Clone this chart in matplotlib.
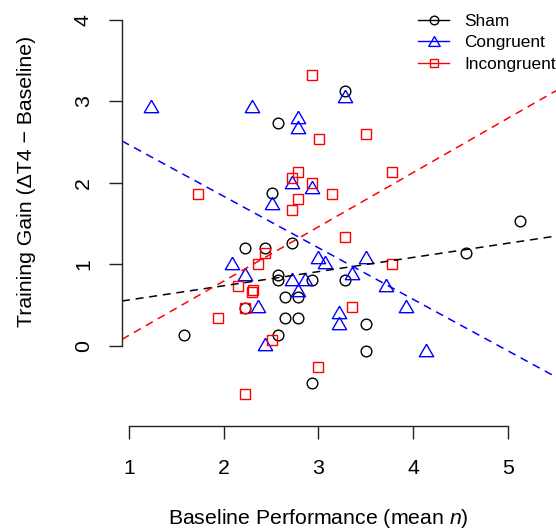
import matplotlib
matplotlib.use("Agg")
import matplotlib.pyplot as plt
import numpy as np
from matplotlib.lines import Line2D

plt.rcParams['font.family'] = ['Liberation Sans', 'DejaVu Sans']
plt.rcParams['mathtext.fontset'] = 'custom'
plt.rcParams['mathtext.rm'] = 'Liberation Sans'
plt.rcParams['mathtext.it'] = 'Liberation Sans:italic'

# ---- data ----
sham_x = [1.580, 2.573, 3.280, 5.127, 4.557, 2.509, 2.224, 2.435, 2.720, 2.573, 2.573,
          2.931, 3.280, 2.646, 2.784, 2.224, 2.646, 2.784, 2.573, 2.931, 3.501, 3.501]
sham_y = [0.135, 2.733, 3.125, 1.532, 1.140, 1.875, 1.201, 1.201, 1.262, 0.870, 0.809,
          0.809, 0.809, 0.600, 0.600, 0.466, 0.343, 0.343, 0.135, -0.453, 0.270, -0.061]

cong_x = [1.232, 2.298, 2.784, 2.784, 3.280, 2.720, 2.931, 2.509, 2.087, 2.995, 3.069, 2.224,
          2.720, 2.858, 2.784, 2.361, 2.435, 3.501, 3.353, 3.712, 3.923, 3.216, 3.216, 4.135]
cong_y = [2.941, 2.941, 2.806, 2.684, 3.069, 2.010, 1.949, 1.753, 1.017, 1.091, 1.029, 0.882,
          0.821, 0.821, 0.686, 0.490, 0.025, 1.091, 0.895, 0.748, 0.490, 0.417, 0.282, -0.049]

incg_x = [2.931, 3.005, 2.784, 2.720, 2.931, 3.142, 1.728, 2.784, 2.720, 3.501, 3.776, 3.280,
          2.435, 2.361, 2.150, 2.298, 2.224, 1.939, 2.509, 2.995, 2.224, 3.776, 3.353, 2.308]
incg_y = [3.321, 2.537, 2.132, 2.059, 1.998, 1.863, 1.863, 1.801, 1.667, 2.598, 2.132, 1.336,
          1.140, 1.005, 0.735, 0.662, 0.466, 0.343, 0.074, -0.257, -0.588, 1.005, 0.478, 0.686]

# fitted lines (intercept, slope)
sham_fit = (0.391, 0.1737)
cong_fit = (3.097, -0.6313)
incg_fit = (-0.534, 0.665)

labels = ["Sham", "Congruent", "Incongruent"]
colors = ["black", "#0000FF", "#FF0000"]
x_ticks = [1, 2, 3, 4, 5]
y_ticks = [0, 1, 2, 3, 4]

W, H = 556, 529
fig = plt.figure(figsize=(W / 100, H / 100), dpi=100)
ax = fig.add_axes([122 / W, (H - 426) / H, (W - 122) / W, 426 / H])
xlim = (0.926, 5.507)
ylim = (-0.980, 4.240)
ax.set_xlim(*xlim)
ax.set_ylim(*ylim)

tri = [(0, 0.866), (-1, -0.866), (1, -0.866), (0, 0.866)]

mk = dict(linestyle='none', markerfacecolor='none', markeredgewidth=1.0, clip_on=False)
ax.plot(sham_x, sham_y, marker='o', markersize=7.7, markeredgecolor=colors[0], color=colors[0], **mk)
ax.plot(cong_x, cong_y, marker=tri, markersize=10.3, markeredgecolor=colors[1], color=colors[1], **mk)
ax.plot(incg_x, incg_y, marker='s', markersize=7.9, markeredgecolor=colors[2], color=colors[2], **mk)

xs = np.array(xlim)
for (b0, b1), c in zip([sham_fit, cong_fit, incg_fit], colors):
    ax.plot(xs, b0 + b1 * xs, color=c, lw=1.1, linestyle=(0, (5.2, 3.8)))

handles = [
    Line2D([], [], color=colors[0], lw=1.0, marker='o', markersize=6.2, markerfacecolor='none', markeredgewidth=1.0),
    Line2D([], [], color=colors[1], lw=1.0, marker=tri, markersize=8.2, markerfacecolor='none', markeredgewidth=1.0),
    Line2D([], [], color=colors[2], lw=1.0, marker='s', markersize=6.3, markerfacecolor='none', markeredgewidth=1.0),
]
ax.legend(handles, labels, loc='upper left', bbox_to_anchor=(418 / W, 1 - 14 / H),
          bbox_transform=fig.transFigure, frameon=False, fontsize=12.4,
          handlelength=1.8, handletextpad=0.9, labelspacing=0.36,
          borderpad=0, borderaxespad=0)

for s in ['top', 'right']:
    ax.spines[s].set_visible(False)
ax.spines['left'].set_bounds(0, 4)
ax.spines['bottom'].set_bounds(1, 5)
for s in ['left', 'bottom']:
    ax.spines[s].set_linewidth(1.0)
    ax.spines[s].set_color('#222222')

ax.set_xticks(x_ticks)
ax.set_yticks(y_ticks)
ax.set_xticklabels([str(v) for v in x_ticks], fontsize=15.3)
ax.set_yticklabels([str(v) for v in y_ticks], fontsize=15.3, rotation=90, va='center')
ax.tick_params(axis='both', direction='out', length=9.4, width=1.0, color='#222222')
ax.tick_params(axis='x', pad=14.5)
ax.tick_params(axis='y', pad=11.5)

fig.text(318 / W, 5 / H, "Baseline Performance (mean $n$)", ha='center', va='baseline', fontsize=15.3)
fig.text(27 / W, 1 - 181 / H, "Training Gain (\u0394T4 \u2212 Baseline)", rotation=90,
         ha='center', va='center', fontsize=15.3)

fig.savefig("out.png", dpi=100)
